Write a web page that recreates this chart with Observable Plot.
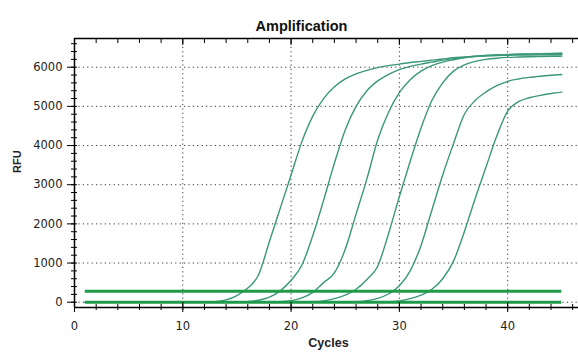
<!DOCTYPE html>
<html>
<head>
<meta charset="utf-8">
<script src="https://cdn.jsdelivr.net/npm/d3@7"></script>
<script src="https://cdn.jsdelivr.net/npm/@observablehq/plot@0.6"></script>
<style>
  html, body { margin: 0; padding: 0; background: #fff; }
  #chart svg { display: block; }
</style>
</head>
<body>
<div id="chart"></div>
<script>
// ---- Data ----
const cycles = [1,2,3,4,5,6,7,8,9,10,11,12,13,14,15,16,17,18,19,20,21,22,23,24,25,26,27,28,29,30,31,32,33,34,35,36,37,38,39,40,41,42,43,44,45];

const rfu1 = [0,0,0,0,0,0,0,0,0,0,0,5,15,60,170,360,700,1550,2400,3250,4100,4750,5200,5500,5700,5830,5920,5990,6040,6080,6120,6150,6180,6210,6240,6260,6280,6300,6310,6320,6330,6335,6340,6345,6350];
const rfu2 = [0,0,0,0,0,0,0,0,0,0,0,0,0,0,0,15,50,130,290,560,950,1700,2600,3550,4400,5000,5400,5650,5820,5940,6020,6080,6130,6180,6220,6250,6280,6300,6315,6325,6335,6340,6345,6350,6355];
const rfu3 = [0,0,0,0,0,0,0,0,0,0,0,0,0,0,0,0,0,0,10,40,110,250,500,750,1350,2250,3150,4150,4850,5350,5680,5900,6040,6130,6190,6240,6270,6290,6300,6305,6310,6312,6315,6318,6320];
const rfu4 = [0,0,0,0,0,0,0,0,0,0,0,0,0,0,0,0,0,0,0,0,0,10,35,90,180,330,580,920,1750,2700,3600,4450,5150,5600,5900,6060,6150,6200,6230,6250,6260,6268,6274,6278,6282];
const rfu5 = [0,0,0,0,0,0,0,0,0,0,0,0,0,0,0,0,0,0,0,0,0,0,0,0,0,10,40,100,210,420,800,1450,2350,3250,4050,4800,5150,5370,5530,5640,5700,5740,5770,5795,5815];
const rfu6 = [0,0,0,0,0,0,0,0,0,0,0,0,0,0,0,0,0,0,0,0,0,0,0,0,0,0,0,0,10,35,90,180,330,600,1050,1800,2650,3450,4250,4880,5120,5220,5280,5330,5365];

const baselineRfu = 0;
const thresholdRfu = 280;

const xTickLabels = [0, 10, 20, 30, 40];
const yTickLabels = [0, 1000, 2000, 3000, 4000, 5000, 6000];

const title = "Amplification";
const xTitle = "Cycles";
const yTitle = "RFU";

// ---- Build table ----
const seriesList = [rfu1, rfu2, rfu3, rfu4, rfu5, rfu6];
const table = seriesList.flatMap((vals, s) =>
  cycles.map((c, i) => ({cycle: c, rfu: vals[i], series: "S" + (s + 1)})));

const xDomain = [0, 46.54];
const yDomain = [-135, 6733];
const xMinor = d3.range(0, 47, 2);
const yMinor = d3.range(0, 6700, 200);
const xGrid = xTickLabels.filter(d => d > 0);

const curveColor = "#3a9878";
const thickColor = "#1e9a48";
const dotted = "1.2,3.2";
const gridColor = "#3a3a3a";
const tickFont = "DejaVu Sans, Verdana, sans-serif";

const chart = Plot.plot({
  width: 578,
  height: 354,
  marginLeft: 74,
  marginRight: 0,
  marginTop: 38,
  marginBottom: 47,
  x: {domain: xDomain},
  y: {domain: yDomain},
  style: {background: "#fff", fontFamily: tickFont},
  marks: [
    Plot.gridY(yTickLabels, {stroke: gridColor, strokeOpacity: 1, strokeDasharray: dotted}),
    Plot.gridX(xGrid, {stroke: gridColor, strokeOpacity: 1, strokeDasharray: dotted}),
    Plot.line(table, {x: "cycle", y: "rfu", z: "series", stroke: curveColor, strokeWidth: 1.4, curve: "monotone-x"}),
    Plot.ruleY([baselineRfu], {x1: cycles[0], x2: cycles[cycles.length - 1], stroke: thickColor, strokeWidth: 3}),
    Plot.ruleY([thresholdRfu], {x1: cycles[0], x2: cycles[cycles.length - 1], stroke: thickColor, strokeWidth: 3}),
    // frame lines
    Plot.ruleX([xDomain[0]], {stroke: "#000", strokeWidth: 1.5}),
    Plot.ruleY([yDomain[0]], {stroke: "#000", strokeWidth: 1.5}),
    Plot.ruleY([yDomain[1]], {stroke: "#000", strokeWidth: 1.5}),
    // y axis: minor crossing ticks, major ticks + labels
    Plot.axisY(yMinor, {tickSize: 6, dx: 3, tickFormat: () => "", label: null, stroke: "#000"}),
    Plot.axisY(yTickLabels, {tickSize: 7, tickPadding: 5, tickFormat: d => String(d), label: null, fontSize: 11.5, fill: "#222", stroke: "#000"}),
    // x axis bottom
    Plot.axisX(xMinor, {tickSize: 6, dy: -3, tickFormat: () => "", label: null, stroke: "#000"}),
    Plot.axisX(xTickLabels, {tickSize: 10, dy: -5, tickFormat: () => "", label: null, stroke: "#000"}),
    Plot.axisX(xTickLabels, {tickSize: 0, tickPadding: 14, tickFormat: d => String(d), label: null, fontSize: 11.5, fill: "#222"}),
    // x axis top (ticks pointing down)
    Plot.axisX(xMinor, {anchor: "top", tickSize: 4, dy: 4, tickFormat: () => "", label: null, stroke: "#000"}),
    Plot.axisX(xTickLabels, {anchor: "top", tickSize: 6, dy: 6, tickFormat: () => "", label: null, stroke: "#000"}),
    // titles
    Plot.text([title], {frameAnchor: "top", dx: -25, dy: -18, fontSize: 14.5, fontWeight: "bold", fontFamily: "Liberation Sans, Arial, sans-serif", fill: "#111"}),
    Plot.text([xTitle], {frameAnchor: "bottom", dx: 2, dy: 39, fontSize: 12.5, fontWeight: "bold", fontFamily: "Liberation Sans, Arial, sans-serif", fill: "#222"}),
    Plot.text([yTitle], {frameAnchor: "left", dx: -57, rotate: -90, fontSize: 11, fontWeight: "bold", fontFamily: "Liberation Sans, Arial, sans-serif", fill: "#222"})
  ]
});
document.getElementById("chart").append(chart);
</script>
</body>
</html>
